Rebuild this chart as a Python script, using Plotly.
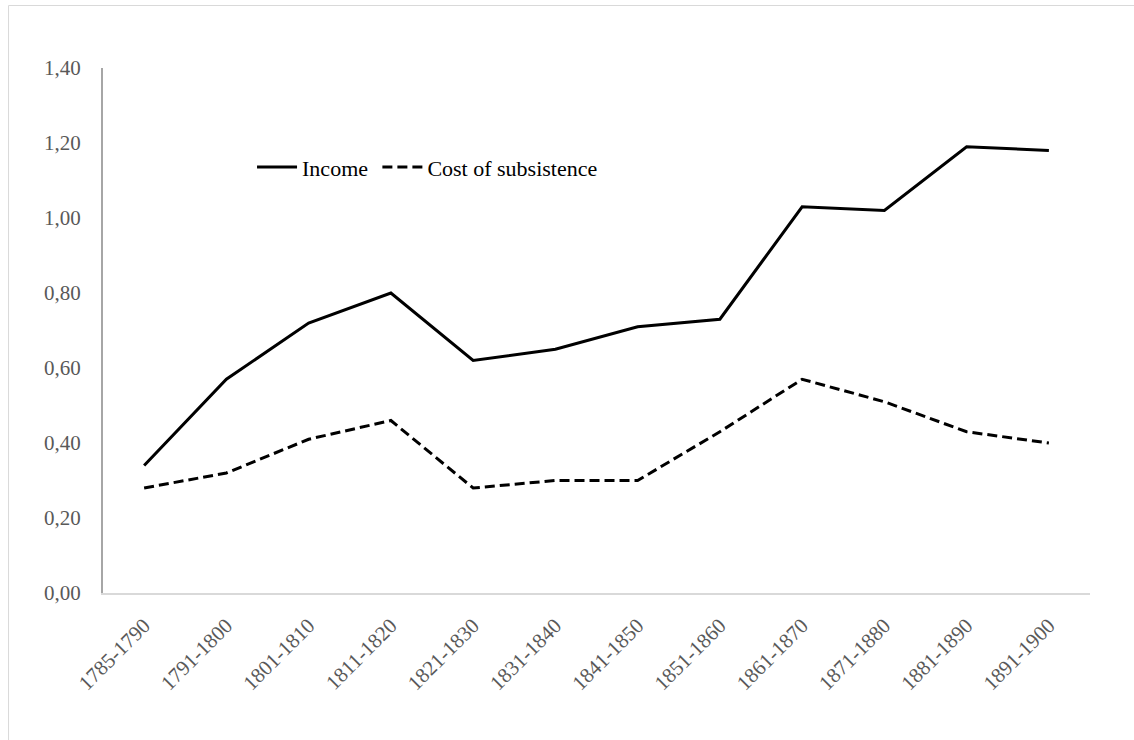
import plotly.graph_objects as go

periods = ["1785-1790", "1791-1800", "1801-1810", "1811-1820", "1821-1830", "1831-1840",
           "1841-1850", "1851-1860", "1861-1870", "1871-1880", "1881-1890", "1891-1900"]
income = [0.34, 0.57, 0.72, 0.80, 0.62, 0.65, 0.71, 0.73, 1.03, 1.02, 1.19, 1.18]
cost_of_subsistence = [0.28, 0.32, 0.41, 0.46, 0.28, 0.30, 0.30, 0.43, 0.57, 0.51, 0.43, 0.40]
y_ticks = [0.0, 0.2, 0.4, 0.6, 0.8, 1.0, 1.2, 1.4]
y_tick_labels = ["0,00", "0,20", "0,40", "0,60", "0,80", "1,00", "1,20", "1,40"]

FONT = "Liberation Serif, Times New Roman, serif"

fig = go.Figure()
fig.add_trace(go.Scatter(x=periods, y=income, mode="lines", name="Income",
                         line=dict(color="black", width=3), legend="legend"))
fig.add_trace(go.Scatter(x=periods, y=cost_of_subsistence, mode="lines", name="Cost of subsistence",
                         line=dict(color="black", width=3, dash="10px,5px"), legend="legend2"))

legend_common = dict(orientation="h", xanchor="left", yanchor="middle",
                     font=dict(family=FONT, size=22, color="black"),
                     bgcolor="rgba(0,0,0,0)", itemwidth=40)

fig.update_layout(
    width=1134, height=740,
    margin=dict(l=103, r=44, t=68, b=147),
    paper_bgcolor="white", plot_bgcolor="white",
    font=dict(family=FONT, size=21, color="#595959"),
    showlegend=True,
    legend=dict(x=0.151, y=0.811, **legend_common),
    legend2=dict(x=0.278, y=0.811, **legend_common),
    shapes=[
        dict(type="line", xref="paper", yref="paper", x0=-0.0957, x1=1.05, y0=1.119, y1=1.119,
             line=dict(color="#d9d9d9", width=1)),
        dict(type="line", xref="paper", yref="paper", x0=-0.0957, x1=-0.0957, y0=1.119, y1=-0.3,
             line=dict(color="#d9d9d9", width=1)),
    ],
)
fig.update_xaxes(
    type="category", range=[-0.5, len(periods) - 0.5],
    showline=True, linecolor="#d9d9d9", linewidth=2,
    showgrid=False, zeroline=False, ticks="",
    tickangle=-45, tickfont=dict(family=FONT, size=21, color="#595959"),
    ticklabelstandoff=10,
)
fig.update_yaxes(
    range=[0, 1.4], tickvals=y_ticks, ticktext=y_tick_labels,
    showline=True, linecolor="#a6a6a6", linewidth=2,
    showgrid=False, zeroline=False, ticks="",
    tickfont=dict(family=FONT, size=21, color="#595959"),
    ticklabelstandoff=16,
)

fig.write_html("out.html")
